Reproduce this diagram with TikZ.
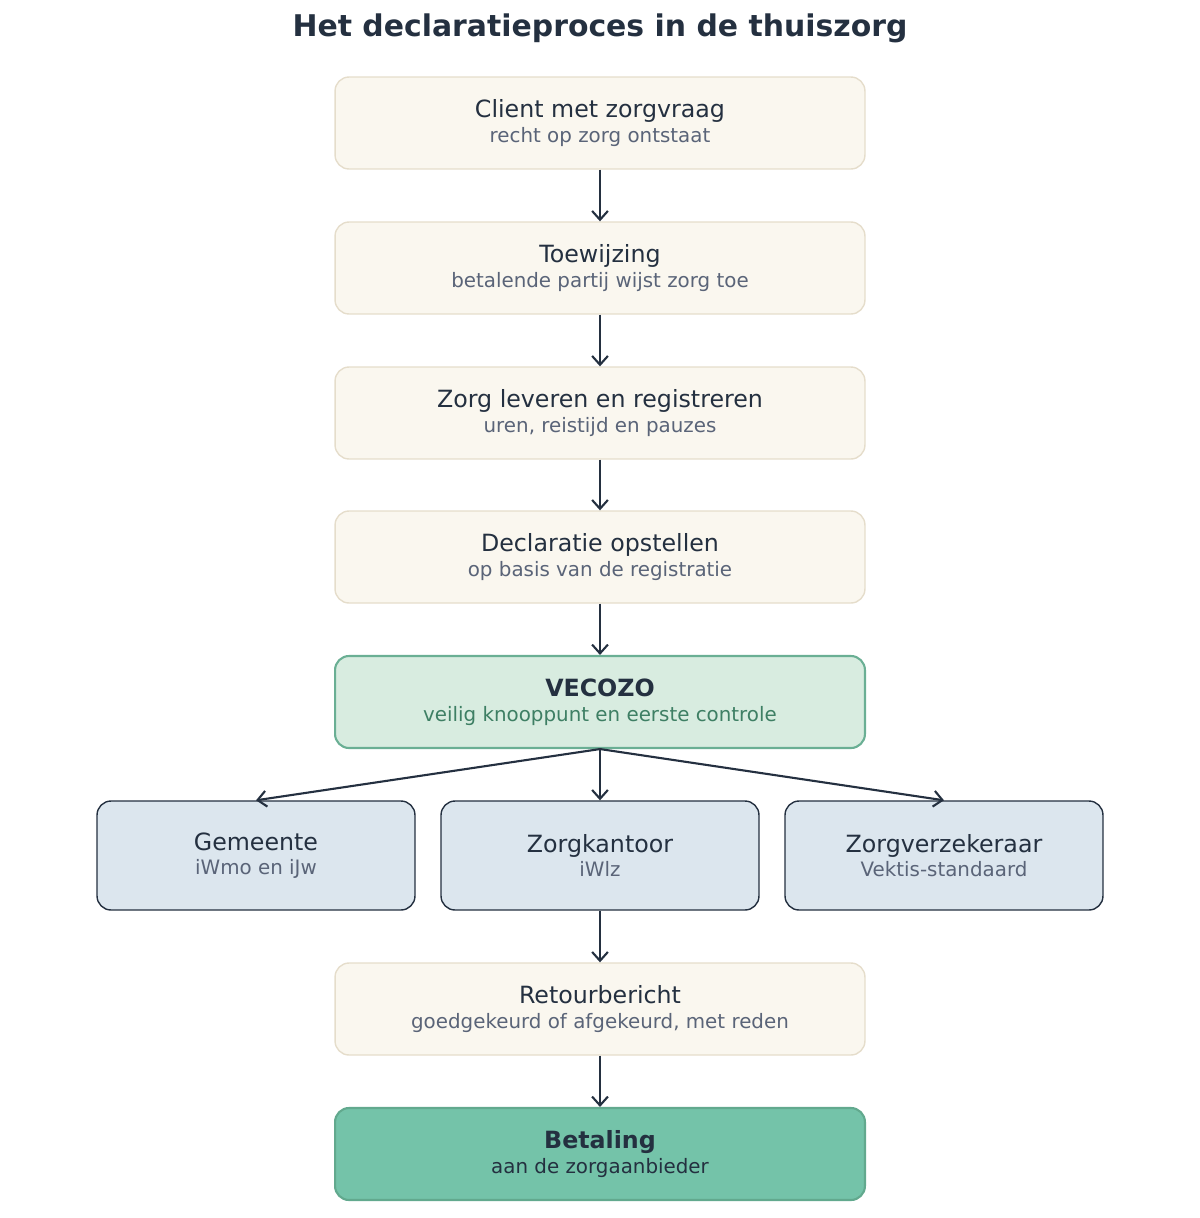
\documentclass[tikz,border=0pt]{standalone}
\usepackage{fontspec}
\setmainfont{DejaVu Sans}
\usetikzlibrary{arrows.meta}
\definecolor{ink}{HTML}{243040}
\definecolor{subgray}{HTML}{5A6478}
\definecolor{creamfill}{HTML}{FAF7EF}
\definecolor{creamline}{HTML}{E5DDCB}
\definecolor{mintfill}{HTML}{D8ECE0}
\definecolor{mintline}{HTML}{6AAF94}
\definecolor{mintink}{HTML}{3E7F64}
\definecolor{bluefill}{HTML}{DCE6EE}
\definecolor{payfill}{HTML}{74C3A9}
\definecolor{payline}{HTML}{62A98E}
\newcommand{\step}[2]{{\fontsize{13.5}{16}\selectfont #1}\\[2pt]{\fontsize{11.3}{14}\selectfont\color{subgray}#2}}

\begin{document}
\begin{tikzpicture}[x=0.02cm,y=-0.02cm,>={Straight Barb[length=5pt,width=9pt]},
    box/.style={draw=creamline,fill=creamfill,line width=0.8pt,rounded corners=0.28cm,
        minimum width=10.6cm,minimum height=1.84cm,align=center,text=ink},
    hub/.style={box,draw=mintline,fill=mintfill,line width=1.2pt},
    payer/.style={box,draw=ink,fill=bluefill,minimum width=6.36cm,minimum height=2.18cm},
    pay/.style={box,draw=payline,fill=payfill,line width=1.2pt},
    flow/.style={->,draw=ink,line width=1.2pt}]
        \useasboundingbox (0,0) rectangle (1200,1218);
        % title
        \node[text=ink,font=\bfseries\fontsize{17}{20}\selectfont] (title) at (600,28) {Het declaratieproces in de thuiszorg};
        % steps
        \node[box] (client) at (600,123) {\step{Client met zorgvraag}{recht op zorg ontstaat}};
        \node[box] (toew) at (600,268) {\step{Toewijzing}{betalende partij wijst zorg toe}};
        \node[box] (lever) at (600,413) {\step{Zorg leveren en registreren}{uren, reistijd en pauzes}};
        \node[box] (decl) at (600,557) {\step{Declaratie opstellen}{op basis van de registratie}};
        \node[hub] (vecozo) at (600,702) {{\fontsize{13.5}{16}\selectfont\bfseries VECOZO}\\[2pt]{\fontsize{11.3}{14}\selectfont\color{mintink}veilig knooppunt en eerste controle}};
        % payers
        \node[payer] (gem) at (256,855.5) {\step{Gemeente}{iWmo en iJw}};
        \node[payer] (kant) at (600,855.5) {\step{Zorgkantoor}{iWlz}};
        \node[payer] (verz) at (944,855.5) {\step{Zorgverzekeraar}{Vektis-standaard}};
        \node[box] (retour) at (600,1009) {\step{Retourbericht}{goedgekeurd of afgekeurd, met reden}};
        \node[pay] (betaling) at (600,1154) {{\fontsize{13.5}{16}\selectfont\bfseries Betaling}\\[2pt]{\fontsize{11.3}{14}\selectfont aan de zorgaanbieder}};
        % arrows
        \draw[flow] (client) -- (toew);
        \draw[flow] (toew) -- (lever);
        \draw[flow] (lever) -- (decl);
        \draw[flow] (decl) -- (vecozo);
        \foreach \p in {gem,kant,verz}
            \draw[flow] (vecozo.south) -- (\p.north);
        \draw[flow] (kant) -- (retour);
        \draw[flow] (retour) -- (betaling);
    \end{tikzpicture}
\end{document}
